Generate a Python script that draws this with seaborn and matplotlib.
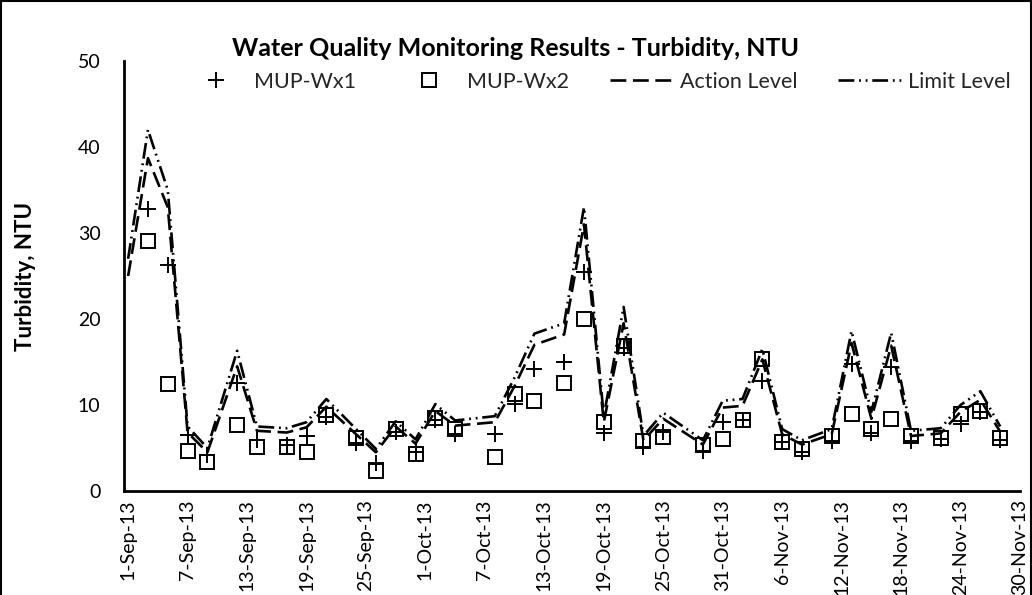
import pandas as pd
import seaborn as sns
import matplotlib.pyplot as plt
from matplotlib.lines import Line2D

# sampling dates of the two monitoring stations
sample_dates = ['2013-09-03', '2013-09-05', '2013-09-07', '2013-09-09', '2013-09-12', '2013-09-14',
                '2013-09-17', '2013-09-19', '2013-09-21', '2013-09-24', '2013-09-26', '2013-09-28',
                '2013-09-30', '2013-10-02', '2013-10-04', '2013-10-08', '2013-10-10', '2013-10-12',
                '2013-10-15', '2013-10-17', '2013-10-19', '2013-10-21', '2013-10-23', '2013-10-25',
                '2013-10-29', '2013-10-31', '2013-11-02', '2013-11-04', '2013-11-06', '2013-11-08',
                '2013-11-11', '2013-11-13', '2013-11-15', '2013-11-17', '2013-11-19', '2013-11-22',
                '2013-11-24', '2013-11-26', '2013-11-28']
wx1 = [32.8, 26.3, 6.5, 4.2, 12.6, 5.9, 5.3, 6.4, 8.6, 5.6, 3.3, 6.9, 4.5, 8.2, 6.6, 6.6, 10.1, 14.2,
       15.0, 25.5, 6.8, 16.6, 5.1, 6.9, 4.7, 8.0, 8.2, 12.8, 5.7, 4.5, 5.8, 14.8, 6.8, 14.4, 5.8, 6.0,
       7.8, 9.2, 5.9]
wx2 = [29.1, 12.4, 4.6, 3.4, 7.7, 5.1, 5.1, 4.5, 8.8, 6.2, 2.3, 7.2, 4.3, 8.5, 7.2, 3.9, 11.3, 10.5,
       12.6, 20.0, 8.0, 16.9, 5.8, 6.3, 5.4, 6.1, 8.2, 15.4, 5.7, 4.9, 6.4, 8.9, 7.2, 8.4, 6.4, 6.2,
       8.9, 9.3, 6.2]

# action / limit levels (one extra point on 1-Sep)
level_dates = ['2013-09-01'] + sample_dates
action_level = [25.0, 38.7, 33.0, 6.8, 4.5, 14.5, 7.0, 6.8, 7.4, 9.8, 6.6, 4.5, 7.5, 5.5, 9.3, 7.6,
                8.0, 12.2, 17.0, 18.2, 31.0, 8.0, 19.5, 5.9, 8.4, 5.4, 9.7, 9.9, 15.3, 6.6, 5.4, 6.6,
                17.2, 8.4, 16.9, 6.4, 6.7, 9.2, 10.6, 6.9]
limit_level = [27.0, 42.0, 35.0, 7.5, 5.0, 16.3, 7.5, 7.3, 8.0, 10.7, 7.2, 4.9, 8.1, 6.0, 10.1, 8.2,
               8.7, 13.2, 18.3, 19.5, 33.0, 8.7, 21.4, 6.4, 9.1, 5.9, 10.5, 10.7, 16.5, 7.2, 5.9, 7.2,
               18.6, 9.2, 18.4, 7.0, 7.3, 10.0, 11.6, 7.5]

tick_dates = ['2013-09-01', '2013-09-07', '2013-09-13', '2013-09-19', '2013-09-25', '2013-10-01',
              '2013-10-07', '2013-10-13', '2013-10-19', '2013-10-25', '2013-10-31', '2013-11-06',
              '2013-11-12', '2013-11-18', '2013-11-24', '2013-11-30']
tick_labels = ['1-Sep-13', '7-Sep-13', '13-Sep-13', '19-Sep-13', '25-Sep-13', '1-Oct-13',
               '7-Oct-13', '13-Oct-13', '19-Oct-13', '25-Oct-13', '31-Oct-13', '6-Nov-13',
               '12-Nov-13', '18-Nov-13', '24-Nov-13', '30-Nov-13']
y_ticks = [0, 10, 20, 30, 40, 50]

sns.set_theme(style='white')
plt.rcParams['font.family'] = ['Lato', 'DejaVu Sans']

samples = pd.DataFrame({'date': pd.to_datetime(sample_dates), 'wx1': wx1, 'wx2': wx2})
levels = pd.DataFrame({'date': pd.to_datetime(level_dates), 'action': action_level, 'limit': limit_level})

fig = plt.figure(figsize=(10.32, 5.95), dpi=100)
ax = fig.add_axes([124 / 1032, 1 - 491 / 595, 896 / 1032, 430 / 595])

sns.lineplot(data=samples, x='date', y='wx1', ax=ax, label='MUP-Wx1', color='black',
             linestyle='none', marker='+', markersize=11, markeredgewidth=1.4,
             markeredgecolor='black')
sns.lineplot(data=samples, x='date', y='wx2', ax=ax, label='MUP-Wx2', color='black',
             linestyle='none', marker='s', markersize=10.5, markeredgewidth=1.4,
             markerfacecolor='none', markeredgecolor='black')
sns.lineplot(data=levels, x='date', y='action', ax=ax, label='Action Level', color='black',
             linewidth=1.9, linestyle=(0, (6, 2.5)))
sns.lineplot(data=levels, x='date', y='limit', ax=ax, label='Limit Level', color='black',
             linewidth=1.9, linestyle=(0, (6, 1.8, 0.7, 1.8, 0.7, 1.8)))

ax.set_xlim(pd.Timestamp('2013-09-01') - pd.Timedelta(hours=10), pd.Timestamp('2013-11-30'))
ax.set_ylim(0, 50)
ax.set_xticks(pd.to_datetime(tick_dates))
ax.set_xticklabels(tick_labels, rotation=90)
ax.set_yticks(y_ticks)
ax.tick_params(axis='both', length=0, labelsize=14, colors='black', pad=6)
ax.tick_params(axis='y', pad=17)
ax.set_xlabel('')
ax.set_ylabel('Turbidity, NTU', fontsize=16, fontweight='bold', color='black')
ax.yaxis.set_label_coords(-0.098, 0.5)

sns.despine(ax=ax)
for side in ['left', 'bottom']:
    ax.spines[side].set_color('black')
    ax.spines[side].set_linewidth(2)

ax.legend(loc='upper left', bbox_to_anchor=(0.055, 1.0), ncol=4, frameon=False, borderpad=0,
          fontsize=15.5, handlelength=3.0, handletextpad=0.25, columnspacing=1.9)

fig.text(0.5, 1 - 48 / 595, 'Water Quality Monitoring Results - Turbidity, NTU',
         ha='center', va='center', fontsize=18, fontweight='bold', color='black')

# chart area border
for xs, ys in [([0.001, 0.001], [0, 0.998]), ([0.001, 0.999], [0.998, 0.998]), ([0.999, 0.999], [0, 0.998])]:
    fig.add_artist(Line2D(xs, ys, transform=fig.transFigure, color='black', linewidth=1.5))

fig.savefig('out.png', dpi=100)
